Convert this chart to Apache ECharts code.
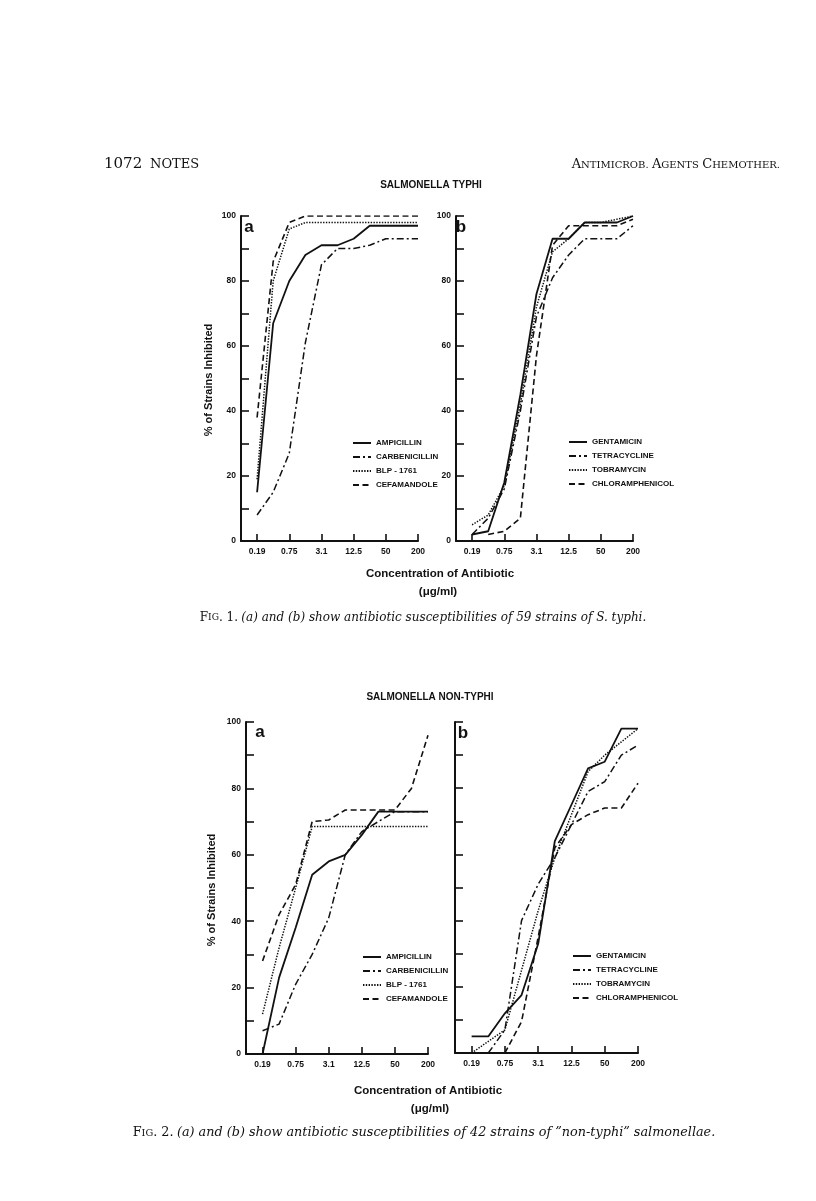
<!DOCTYPE html>
<html>
<head>
<meta charset="utf-8">
<script src="https://cdn.jsdelivr.net/npm/echarts@6/dist/echarts.min.js"></script>
<style>
  html, body { margin: 0; padding: 0; background: #fff; }
  #chart { width: 816px; height: 1201px; }
</style>
</head>
<body>
<div id="chart"></div>
<script>
// concentration ladder (ug/ml), doubling steps; only every other one is labelled
const steps = ["0.19", "0.39", "0.75", "1.5", "3.1", "6.25", "12.5", "25", "50", "100", "200"]
const labelledSteps = [0, 2, 4, 6, 8, 10]
const yTicks = [0, 20, 40, 60, 80, 100]

// Fig. 1 - Salmonella typhi, % of strains inhibited at each step
const typhiAmpicillin = [15, 67, 80, 88, 91, 91, 93, 97, 97, 97, 97]
const typhiCarbenicillin = [8, 15, 27, 61, 85, 90, 90, 91, 93, 93, 93]
const typhiBlp = [19, 80, 96, 98, 98, 98, 98, 98, 98, 98, 98]
const typhiCefamandole = [38, 86, 98, 100, 100, 100, 100, 100, 100, 100, 100]

const typhiGentamicin = [2, 3, 18, 45, 76, 93, 93, 98, 98, 98, 100]
const typhiTetracycline = [2, 7, 16, 40, 69, 81, 88, 93, 93, 93, 97]
const typhiTobramycin = [5, 8, 17, 42, 72, 89, 93, 98, 98, 99, 100]
const typhiChloramphenicol = [null, 2, 3, 7, 57, 91, 97, 97, 97, 97, 99]

// Fig. 2 - "non-typhi" salmonellae
const nonAmpicillin = [0, 23, 38, 54, 58, 60, 66, 73, 73, 73, 73]
const nonCarbenicillin = [7, 9, 21, 30, 41, 60, 67, 70, 73, 73, 73]
const nonBlp = [12, 32, 50, 68.5, 68.5, 68.5, 68.5, 68.5, 68.5, 68.5, 68.5]
const nonCefamandole = [28, 42, 51, 70, 70.5, 73.5, 73.5, 73.5, 73.5, 80, 96]

const nonGentamicin = [5, 5, 12, 17.5, 33, 64, 75, 86, 88, 98, 98]
const nonTetracycline = [null, 0, 7, 40, 51, 59, 69, 79, 82, 90, 93]
const nonTobramycin = [0, 3.5, 7, 25, 43, 59, 72, 85, 90, 94, 98]
const nonChloramphenicol = [null, null, 0, 9.5, 35, 62, 69, 72, 74, 74, 81.5]

const namesA = ["AMPICILLIN", "CARBENICILLIN", "BLP - 1761", "CEFAMANDOLE"]
const namesB = ["GENTAMICIN", "TETRACYCLINE", "TOBRAMYCIN", "CHLORAMPHENICOL"]

const ink = "#111"
const sans = "'Liberation Sans', Arial, sans-serif"
const serif = "'DejaVu Serif', 'Liberation Serif', serif"

const lineTypes = [
  { type: "solid", width: 1.8 },
  { type: [7, 3, 2, 3], width: 1.5 },
  { type: [1.4, 1.4], width: 1.5 },
  { type: [6, 3.5], width: 1.6 }
]

const pts = (vals) => vals.map((v, i) => (v == null ? null : [i, v])).filter(Boolean)

const panels = [
  { grid: { left: 241, top: 216, width: 177, height: 325 }, names: namesA, yLabels: true,
    data: [typhiAmpicillin, typhiCarbenicillin, typhiBlp, typhiCefamandole] },
  { grid: { left: 456, top: 216, width: 177, height: 325 }, names: namesB, yLabels: true,
    data: [typhiGentamicin, typhiTetracycline, typhiTobramycin, typhiChloramphenicol] },
  { grid: { left: 246, top: 722, width: 182, height: 332 }, names: namesA, yLabels: true,
    data: [nonAmpicillin, nonCarbenicillin, nonBlp, nonCefamandole] },
  { grid: { left: 455, top: 722, width: 183, height: 331 }, names: namesB, yLabels: false,
    data: [nonGentamicin, nonTetracycline, nonTobramycin, nonChloramphenicol] }
]

const legendPos = [
  { left: 352, top: 439 },
  { left: 568, top: 438 },
  { left: 362, top: 953 },
  { left: 572, top: 952 }
]

const series = []
panels.forEach((p, g) => {
  p.data.forEach((vals, k) => {
    series.push({
      name: p.names[k],
      type: "line",
      xAxisIndex: g,
      yAxisIndex: g,
      data: pts(vals),
      symbol: "none",
      lineStyle: { color: ink, type: lineTypes[k].type, width: lineTypes[k].width },
      itemStyle: { color: ink },
      z: 3 + k
    })
  })
})

const xAxes = panels.map((p, g) => ({
  gridIndex: g,
  type: "value",
  min: -1,
  max: 10,
  axisLine: { onZero: false, lineStyle: { color: ink, width: 2 } },
  axisTick: { inside: true, length: 7, customValues: labelledSteps, lineStyle: { color: ink, width: 1.6 } },
  axisLabel: {
    customValues: labelledSteps,
    formatter: (v) => steps[v],
    margin: 6,
    fontSize: 8.5,
    fontWeight: "bold",
    color: ink,
    fontFamily: sans
  },
  splitLine: { show: false }
}))

const yAxes = panels.map((p, g) => ({
  gridIndex: g,
  type: "value",
  min: 0,
  max: 100,
  interval: 10,
  axisLine: { show: true, onZero: false, lineStyle: { color: ink, width: 2 } },
  axisTick: { show: true, inside: true, length: 8, lineStyle: { color: ink, width: 1.6 } },
  axisLabel: {
    show: p.yLabels,
    formatter: (v) => (yTicks.includes(v) ? String(v) : ""),
    margin: 5,
    fontSize: 8.5,
    fontWeight: "bold",
    color: ink,
    fontFamily: sans
  },
  splitLine: { show: false }
}))

const legends = panels.map((p, g) => ({
  data: p.names,
  orient: "vertical",
  left: legendPos[g].left,
  top: legendPos[g].top,
  padding: 0,
  itemWidth: 18,
  itemHeight: 10,
  itemGap: 6,
  selectedMode: false,
  itemStyle: { opacity: 0 },
  textStyle: { fontSize: 8, fontWeight: "bold", color: ink, fontFamily: sans }
}))

const txt = (x, y, text, style, extra) => Object.assign({
  type: "text", x, y,
  style: Object.assign({ text, fill: ink, align: "center", verticalAlign: "middle" }, style)
}, extra || {})

const bold = (size) => ({ font: `bold ${size}px ${sans}` })

const caption = (x, y, num, body, size) => ({
  type: "text", x, y,
  style: {
    text: `{n|F}{s|IG}{n|. ${num}.} {i|${body}}`,
    align: "center", verticalAlign: "middle", fill: ink,
    rich: {
      n: { font: `${size}px ${serif}`, fill: ink },
      s: { font: `${size * 0.76}px ${serif}`, fill: ink },
      i: { font: `italic ${size}px ${serif}`, fill: ink }
    }
  }
})

const graphics = [
  txt(104, 164, "1072", { font: `15px ${serif}`, align: "left" }),
  txt(150, 165, "NOTES", { font: `13px ${serif}`, align: "left" }),
  {
    type: "text", x: 780, y: 165,
    style: {
      text: "{c|A}{s|NTIMICROB.} {c|A}{s|GENTS} {c|C}{s|HEMOTHER.}",
      align: "right", verticalAlign: "middle", fill: ink,
      rich: {
        c: { font: `13px ${serif}`, fill: ink },
        s: { font: `10px ${serif}`, fill: ink }
      }
    }
  },
  txt(431, 185, "SALMONELLA TYPHI", bold(10)),
  txt(430, 697, "SALMONELLA NON-TYPHI", bold(10)),

  // panel letters
  txt(249, 227, "a", bold(17)),
  txt(461, 227, "b", bold(17)),
  txt(260, 732, "a", bold(17)),
  txt(463, 733, "b", bold(17)),

  // axis titles
  txt(209, 380, "% of Strains Inhibited", bold(11), { rotation: Math.PI / 2 }),
  txt(212, 890, "% of Strains Inhibited", bold(11), { rotation: Math.PI / 2 }),
  txt(440, 574, "Concentration of Antibiotic", bold(11.5)),
  txt(438, 592, "(\u03bcg/ml)", bold(11.5)),
  txt(428, 1091, "Concentration of Antibiotic", bold(11.5)),
  txt(430, 1109, "(\u03bcg/ml)", bold(11.5)),

  // captions
  caption(423, 618, 1, "(a) and (b) show antibiotic susceptibilities of 59 strains of S. typhi.", 12),
  caption(424, 1133, 2, "(a) and (b) show antibiotic susceptibilities of 42 strains of \u201dnon-typhi\u201d salmonellae.", 12.8)
]

const myChart = echarts.init(document.getElementById("chart"), null, { renderer: "canvas" })
myChart.setOption({
  backgroundColor: "#fff",
  animation: false,
  grid: panels.map((p) => Object.assign({ containLabel: false }, p.grid)),
  xAxis: xAxes,
  yAxis: yAxes,
  legend: legends,
  series: series,
  graphic: graphics
})
</script>
</body>
</html>
